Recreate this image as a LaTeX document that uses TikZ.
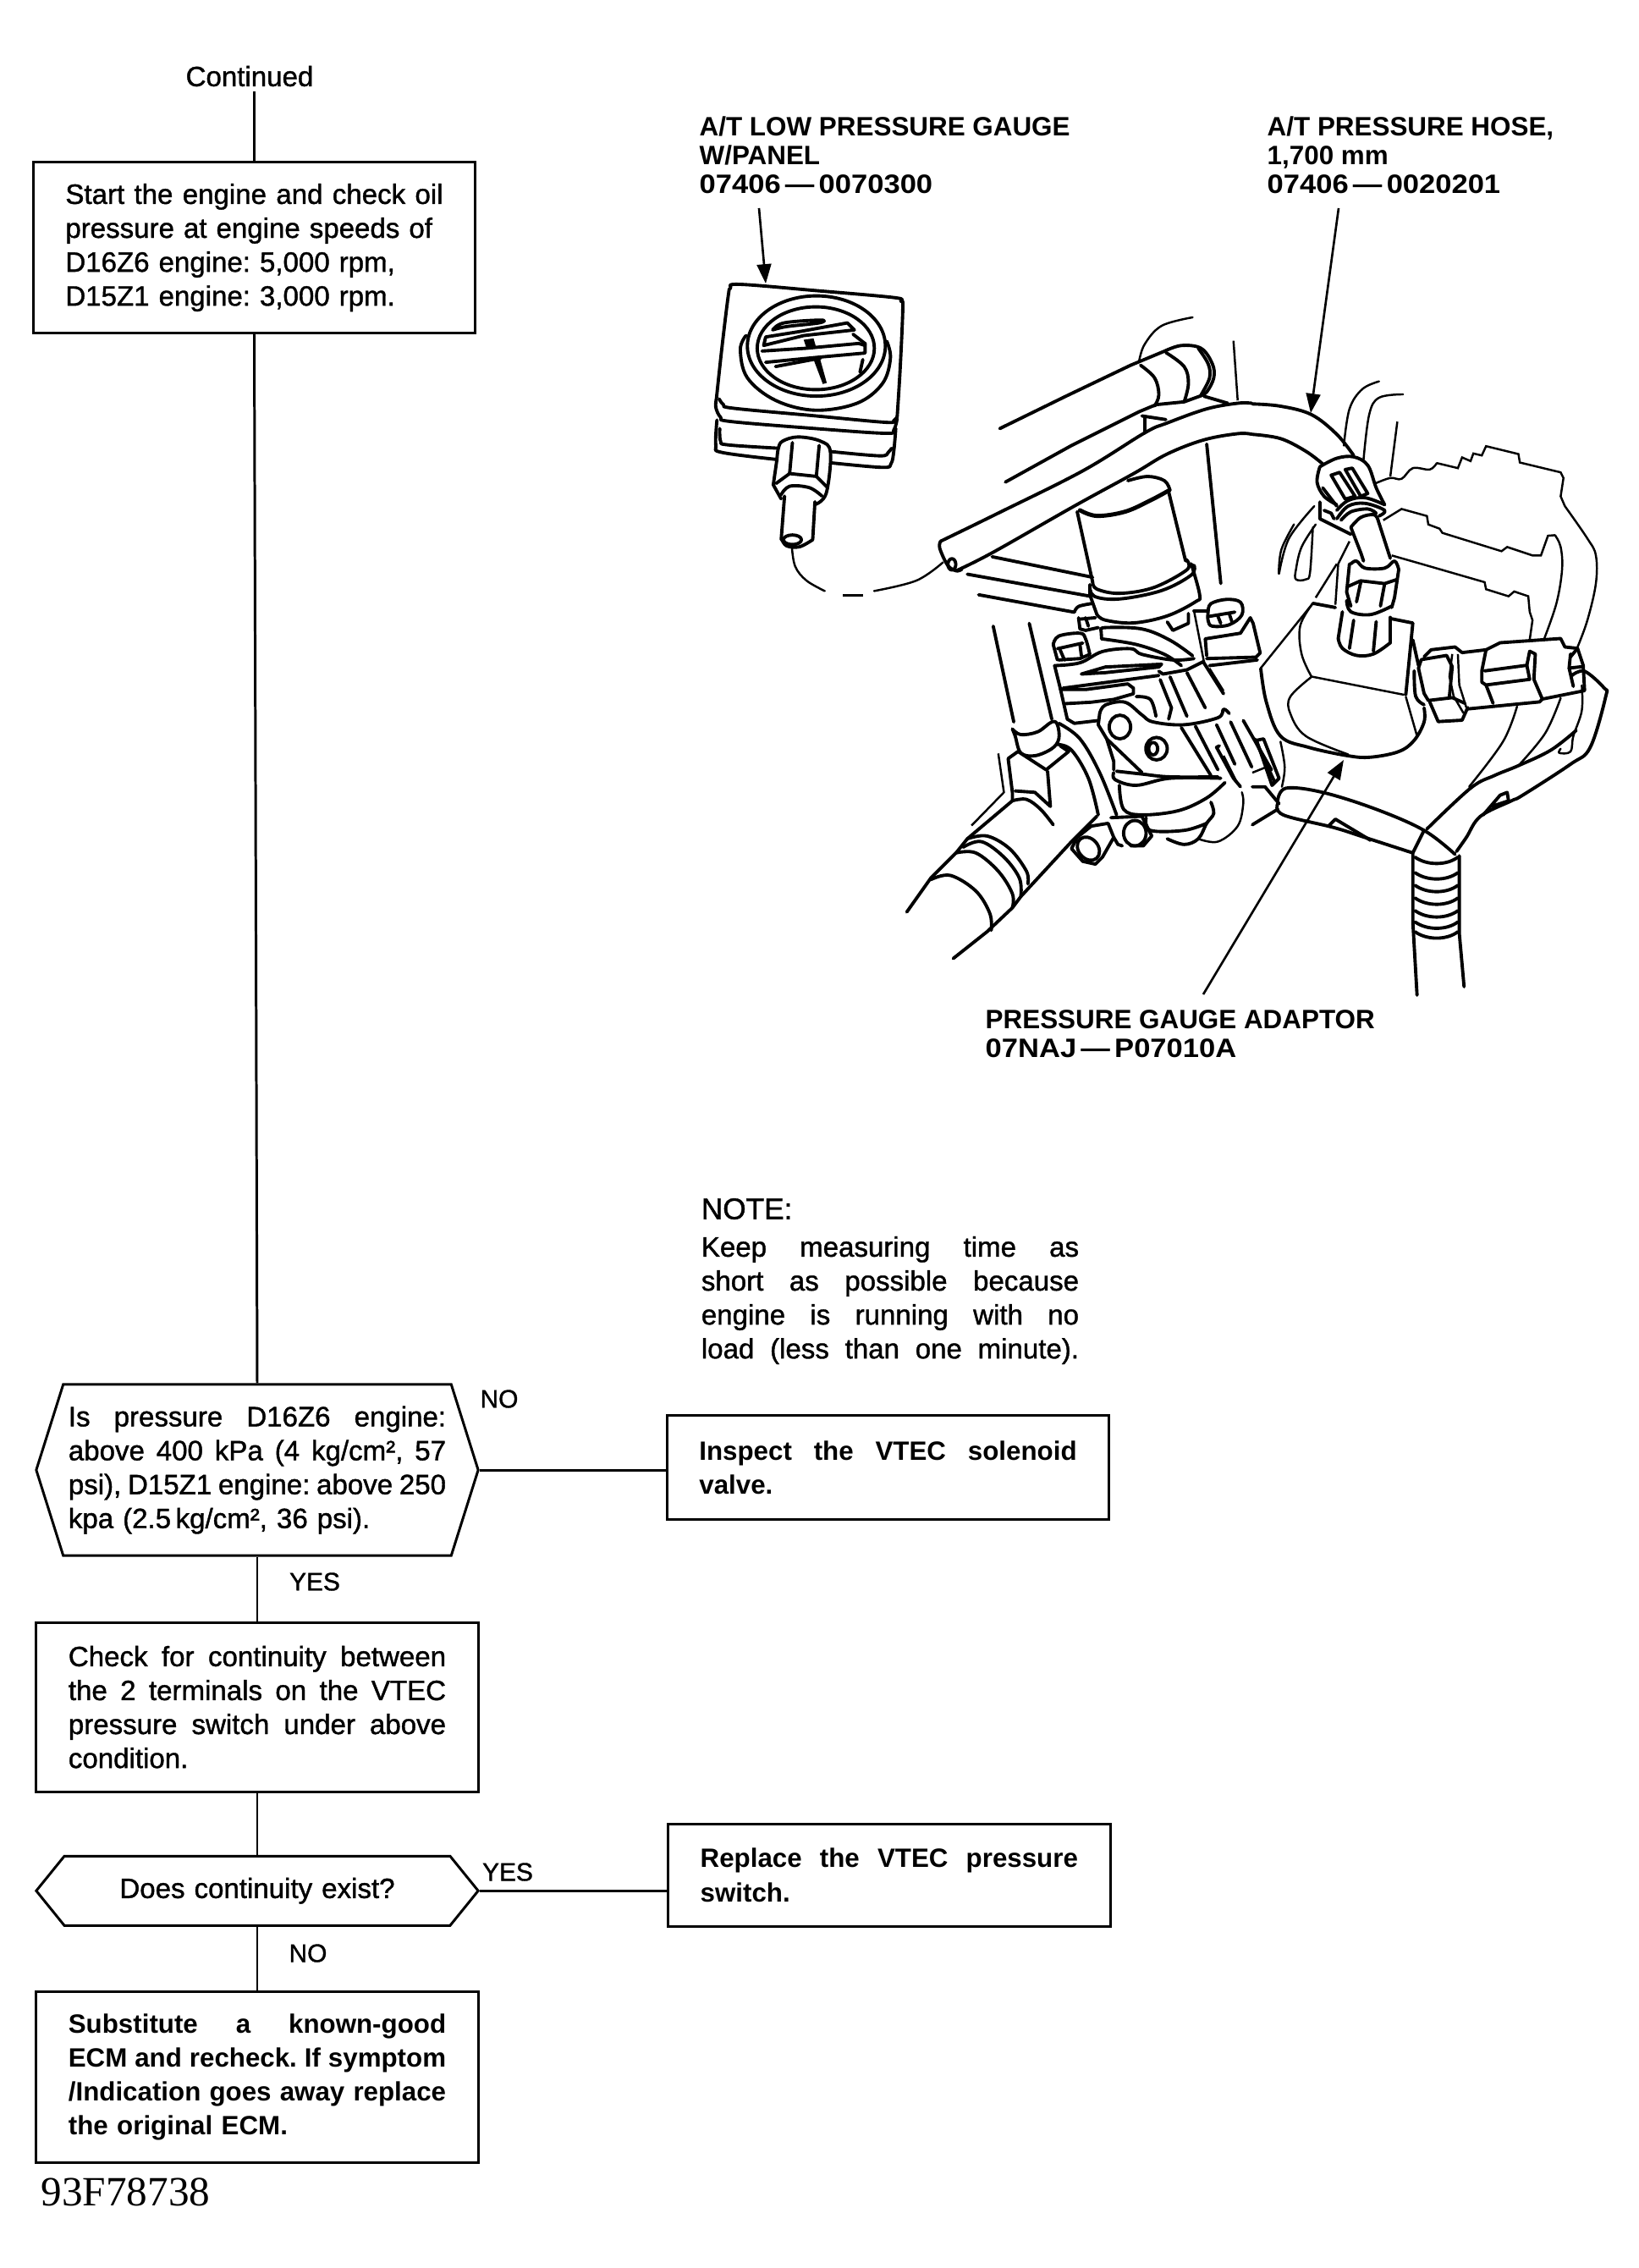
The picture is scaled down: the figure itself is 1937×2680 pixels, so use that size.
\documentclass[tikz,border=0pt]{standalone}
\usepackage{fontspec}
\setmainfont{Liberation Sans}
\newfontfamily\medfont[FakeBold=1.2]{Liberation Sans}
\newfontfamily\partfont[FakeStretch=1.1]{Liberation Sans}
\newfontfamily\codefont{Liberation Serif}
\usetikzlibrary{shapes.symbols, arrows.meta, positioning}
\frenchspacing
\newcommand{\fl}[1]{\makebox[\linewidth][s]{\spaceskip=0pt #1}}
\newcommand{\crv}[2][]{\draw[ink,#1] plot[smooth,tension=0.6] coordinates {#2};}
\tikzset{
  ink/.style={line width=1.1pt, line cap=round, line join=round},
  thinink/.style={line width=0.7pt},
  zoomat/.style 2 args={shift={(#1,#2)}, x=0.003333cm, y=-0.003333cm}
}
\begin{document}
\begin{tikzpicture}[
    x=0.01cm, y=-0.01cm,
    box/.style={rectangle, draw, line width=0.85pt, minimum width=5.22cm, text width=4.46cm,
                inner sep=0pt, align=left, font=\medfont\fontsize{9.4}{11.4}\selectfont},
    boldbox/.style={box, font=\bfseries\fontsize{8.9}{11.4}\selectfont},
    hexbox/.style={box, signal, signal to=east and west, minimum width=5.22cm},
    lbl/.style={font=\bfseries\fontsize{8.93}{9.7}\selectfont, align=left, anchor=west, inner sep=0pt},
    tag/.style={font=\medfont\fontsize{8.5}{10}\selectfont, inner sep=0pt},
    flow/.style={line width=0.85pt},
    leader/.style={-{Triangle[length=6.5pt,width=4.8pt]}, line width=0.75pt}
  ]
    \useasboundingbox (0,0) rectangle (1937,2680);

    \node[font=\medfont\fontsize{9.4}{11}\selectfont, inner sep=0.05cm] (cont) at (295,90) {Continued};
    \node[box, minimum height=2.01cm] (start) at (300.5,292.5)
      {\fl{Start the engine and check oil}\\pressure at engine speeds of\\D16Z6 engine: 5,000 rpm,\\D15Z1 engine: 3,000 rpm.};
    \node[hexbox, signal pointer angle=145, minimum height=2.02cm] (hexa) at (304,1737)
      {\fl{Is pressure D16Z6 engine:}\\\fl{above 400 kPa (4 kg/cm², 57}\\\fl{psi), D15Z1 engine: above 250}\\kpa (2.5\,kg/cm², 36 psi).};
    \node[box, below=0.76cm of hexa, minimum height=2cm] (check)
      {\fl{Check for continuity between}\\\fl{the 2 terminals on the VTEC}\\\fl{pressure switch under above}\\condition.};
    \node[hexbox, below=0.73cm of check, signal pointer angle=102, minimum height=0.82cm, align=center] (hexb)
      {Does continuity exist?};
    \node[boldbox, below=0.75cm of hexb, minimum height=2.02cm] (subst)
      {\fl{Substitute a known-good}\\\fl{ECM and recheck. If symptom}\\\fl{/Indication goes away replace}\\the original ECM.};
    \node[boldbox, right=2.2cm of hexa, yshift=0.03cm, minimum height=1.22cm] (insp)
      {\fl{Inspect the VTEC solenoid}\\valve.};
    \node[boldbox, right=2.21cm of hexb, yshift=0.185cm, minimum height=1.21cm] (repl)
      {\fl{Replace the VTEC pressure}\\switch.};
    \node[font=\medfont\fontsize{9.4}{11.4}\selectfont, text width=4.46cm, align=left, inner sep=0pt] (note) at (1052,1514)
      {{\fontsize{10}{11.4}\selectfont NOTE:}\\[1.2pt]\fl{Keep measuring time as}\\\fl{short as possible because}\\\fl{engine is running with no}\\\fl{load (less than one minute).}};

    \node[tag] (nohexa) at (590,1653) {NO};
    \node[tag] (yeshexa) at (372,1869) {YES};
    \node[tag] (yeshexb) at (600,2212) {YES};
    \node[tag] (nohexb) at (364,2308) {NO};
    \node[font=\codefont\fontsize{14}{16}\selectfont, anchor=west, inner sep=0pt] (figno) at (48,2590) {93F78738};

    \draw[flow] (cont.south -| start.north) -- (start.north);
    \draw[flow] (start.south) -- (hexa.north);
    \draw[flow] (hexa.south) -- (hexa.south |- check.north);
    \draw[flow] (check.south) -- (check.south |- hexb.north);
    \draw[flow] (hexb.south) -- (hexb.south |- subst.north);
    \draw[flow] (hexa.east) -- (hexa.east -| insp.west);
    \draw[flow] (hexb.east) -- (hexb.east -| repl.west);

    \node[lbl] (lblgauge) at (826,183) {A/T LOW PRESSURE GAUGE\\W/PANEL\\{\partfont\bfseries 07406\,—\,0070300}};
    \node[lbl] (lblhose) at (1497,183) {A/T PRESSURE HOSE,\\1,700 mm\\{\partfont\bfseries 07406\,—\,0020201}};
    \node[lbl] (lbladapt) at (1164,1222) {PRESSURE GAUGE ADAPTOR\\{\partfont\bfseries 07NAJ\,—\,P07010A}};

    \coordinate (gaugefrom) at (897,246);
    \coordinate (gaugetip) at (905,335);
    \coordinate (hosefrom) at (1582,246);
    \coordinate (hosetip) at (1549,488);
    \coordinate (adaptfrom) at (1422,1175);
    \coordinate (adapttip) at (1588,898);
    \draw[leader] (gaugefrom) -- (gaugetip);
    \draw[leader] (hosefrom) -- (hosetip);
    \draw[leader] (adaptfrom) -- (adapttip);

    \begin{scope}[zoomat={830}{300}]
      \crv{(50,515)(70,330)(92,150)(100,122)(130,108)(400,130)(680,155)(705,168)(712,190)(703,400)(692,578)}
      \crv{(60,515)(75,535)(110,548)(400,575)(650,598)(680,592)(692,578)}
      \crv{(50,515)(48,545)(65,580)(100,595)(400,620)(650,637)(680,625)(692,585)}
      \crv{(52,590)(48,680)(70,705)(265,730)}
      \crv{(62,620)(65,665)(90,678)(270,690)}
      \crv{(458,742)(640,758)(670,745)(680,700)(687,620)}
      \crv{(458,702)(630,717)(660,705)(672,690)}
      \draw[ink] (405,327) ellipse [x radius=245, y radius=178];
      \draw[ink] (403,335) ellipse [x radius=208, y radius=147];
      \crv{(155,290)(135,340)(160,440)(260,520)(400,555)(550,530)(640,460)(668,370)(655,310)}
      \crv{(250,270)(290,245)(420,235)(415,245)(300,258)(250,270)}
      \draw[ink] (218,325) -- (225,295) -- (350,275) -- (515,245) -- (540,270) -- (360,290) -- cycle;
      \draw[ink] (212,345) -- (370,335) -- (555,318) -- (578,325) -- (578,352) -- (400,368) -- (225,385);
      \draw[ink] (260,400) -- (420,370);
      \draw[ink] (535,285) -- (580,320);
      \draw[ink] (570,375) -- (560,420);
      \fill (360,305) -- (395,300) -- (405,335) -- (370,335) -- cycle;
      \fill (395,375) -- (418,372) -- (442,458) -- (428,462) -- cycle;
      \crv{(265,730)(270,690)(285,665)(340,650)(420,665)(455,705)(440,850)(400,890)}
      \draw[ink] (265,730) -- (252,820) -- (280,870);
      \draw[ink] (320,670) -- (310,780);
      \draw[ink] (415,680) -- (405,790);
      \draw[ink] (262,815) -- (310,780) -- (405,790) -- (445,830);
      \crv{(280,855)(310,825)(380,830)(425,860)}
      \draw[ink] (292,860) -- (280,1015);
      \draw[ink] (400,880) -- (392,1015);
      \draw[ink] (320,1015) ellipse [x radius=32, y radius=17];
      \crv{(283,1015)(300,1037)(345,1040)(392,1015)}
      \crv[thinink]{(318,1040)(330,1110)(370,1160)(435,1197)}
      \crv[thinink]{(610,1197)(760,1160)(855,1095)}
      \draw[thinink] (500,1213) -- (570,1213);
    \end{scope}

    \begin{scope}[zoomat={1080}{360}]
      \crv{(95,840)(300,740)(600,590)(820,455)(900,420)(1040,370)(1150,350)(1200,350)}
      \crv{(150,945)(280,880)(570,715)(780,600)(900,530)(1030,480)(1150,458)(1200,460)}
      \crv{(95,840)(92,865)(120,925)(150,945)(170,940)}
      \draw[ink] (135,922) ellipse [x radius=14, y radius=20];
      \draw[ink] (305,440) -- (540,325) -- (770,215);
      \draw[ink] (770,215) -- (890,165);
      \crv{(890,165)(950,145)(1020,155)(1060,210)(1065,260)(1040,310)(1015,325)}
      \crv{(1010,155)(1045,210)(1050,260)(1020,320)}
      \crv{(895,170)(960,220)(975,280)(960,345)}
      \crv{(805,215)(855,260)(870,320)(855,360)}
      \draw[ink] (325,630) -- (560,500) -- (800,380) -- (860,355) -- (960,345) -- (1015,325);
      \draw[ink] (1030,325) -- (1115,350);
      \draw[ink] (810,395) -- (895,408);
      \draw[ink] (820,400) -- (820,455);
      \crv[thinink]{(800,200)(820,140)(880,75)(990,45)}
      \draw[thinink] (1135,128) -- (1150,340);
      \draw[ink] (1040,495) -- (1090,990);
      \crv{(760,625)(830,610)(890,625)(910,660)}
      \crv[line width=1.4pt]{(590,730)(650,750)(750,735)(840,695)(905,660)}
      \draw[ink] (580,735) -- (635,985);
      \draw[ink] (905,665) -- (965,910);
      \crv{(635,985)(650,1010)(730,1025)(850,1005)(965,945)(975,915)(965,905)}
      \crv{(625,995)(640,1035)(730,1045)(880,1015)(985,960)(995,925)}
      \crv{(985,920)(1015,1030)(1000,1055)(900,1105)(780,1130)(680,1120)(650,1100)}
      \draw[ink] (625,995) -- (625,1030) -- (650,1100);
      \draw[ink] (278,895) -- (635,968);
      \draw[ink] (190,957) -- (625,1035);
      \draw[ink] (230,1030) -- (570,1092);
      \crv[thinink]{(1296,955)(1305,870)(1350,780)}
    \end{scope}

    \begin{scope}[zoomat={1480}{440}]
      \crv{(0,112)(100,120)(210,150)(300,220)(360,295)}
      \crv{(0,220)(100,235)(190,280)(250,325)}
      \crv[thinink]{(325,260)(345,130)(390,60)(450,32)}
      \crv[thinink]{(395,310)(415,150)(450,90)(535,78)}
      \draw[thinink] (515,175) -- (490,370);
      \crv{(240,335)(230,390)(255,440)(300,470)}
      \crv{(240,335)(300,305)(360,300)(410,330)(440,410)(470,470)}
      \draw[ink] (280,365) -- (330,450) -- (365,440) -- (310,355) -- cycle;
      \draw[ink] (330,345) -- (385,440) -- (410,430) -- (355,340) -- cycle;
      \crv{(300,490)(340,455)(400,445)(470,470)}
      \crv{(300,520)(340,475)(400,465)(470,490)(450,510)}
      \crv{(315,525)(350,495)(410,485)(440,500)}
      \draw[ink] (240,460) -- (240,520) -- (290,545) -- (350,575);
      \draw[ink] (250,410) -- (300,475);
      \draw[ink] (255,490) -- (280,500) -- (290,520);
      \crv[thinink]{(95,715)(130,590)(220,475)}
      \crv[thinink]{(225,540)(175,620)(155,700)(155,735)(190,735)(205,710)(215,550)}
      \draw[thinink] (225,800) -- (300,680);
      \draw[thinink] (295,825) -- (305,680) -- (345,600);
      \draw[ink] (350,550) -- (385,640) -- (395,670);
      \draw[ink] (445,520) -- (490,660);
      \crv{(350,550)(385,515)(430,505)(445,520)}
      \draw[ink] (345,680) -- (335,780) -- (350,830);
      \crv{(350,680)(370,670)(400,695)(470,695)(505,670)(520,700)}
      \draw[ink] (520,700) -- (505,800) -- (495,835);
      \draw[ink] (385,745) -- (370,815);
      \draw[ink] (470,750) -- (455,830);
      \draw[ink] (340,760) -- (385,740) -- (470,750) -- (515,735);
      \crv{(335,810)(350,850)(420,860)(495,830)}
      \crv{(305,945)(320,850)}
      \draw[ink] (490,870) -- (490,960);
      \crv{(305,945)(320,980)(370,1005)(430,1000)(490,960)}
      \draw[ink] (360,880) -- (345,980);
      \draw[ink] (440,885) -- (430,990);
      \draw[ink] (215,820) -- (295,835);
      \draw[ink] (495,875) -- (570,890) -- (545,1145);
      \draw[ink] (570,950) -- (590,1040);
      \draw[thinink] (215,820) -- (30,1050);
      \crv[thinink]{(215,820)(170,900)(175,1000)(210,1080)}
      \draw[thinink] (210,1080) -- (540,1145);
      \crv[thinink]{(435,395)(490,375)(530,378)(570,340)(630,345)(655,322)}
      \draw[thinink] (655,322) -- (730,340) -- (745,302) -- (775,315) -- (785,288) -- (815,295) -- (830,262) -- (945,290) -- (950,320) -- (1095,355) -- (1105,375) -- (1095,440) -- (1110,475);
      \crv[thinink]{(1110,475)(1190,590)(1220,650)(1220,750)(1190,880)(1155,975)}
      \draw[thinink] (465,525) -- (530,485) -- (620,510) -- (625,540) -- (665,555) -- (675,570) -- (885,635) -- (905,620) -- (995,650) -- (1025,650) -- (1050,580) -- (1075,578);
      \crv[thinink]{(1075,578)(1095,620)(1100,700)(1080,820)(1035,950)}
      \draw[thinink] (495,650) -- (600,680) -- (825,745) -- (830,770) -- (910,795) -- (930,778) -- (980,795) -- (985,850) -- (995,880) -- (985,950);
      \draw[ink] (610,1010) -- (635,985) -- (720,975) -- (745,995);
      \draw[ink] (590,1050) -- (600,1020) -- (690,1005) -- (710,1045) -- (700,1150);
      \draw[ink] (590,1050) -- (610,1140) -- (625,1165) -- (710,1155) -- (755,1175);
      \draw[ink] (630,1170) -- (660,1240) -- (745,1235) -- (765,1190);
      \crv{(575,1060)(580,1150)(610,1180)}
      \draw[thinink] (710,1000) -- (700,1080) -- (715,1150) -- (750,1210);
      \draw[thinink] (730,1000) -- (735,1110) -- (760,1190);
      \draw[ink] (745,995) -- (830,985) -- (880,960) -- (1095,945) -- (1110,975) -- (1155,980) -- (1175,1040) -- (1180,1130) -- (1030,1160) -- (1020,1170) -- (765,1195);
      \draw[ink] (830,985) -- (815,1060) -- (815,1100) -- (830,1110) -- (985,1090) -- (975,1040) -- (825,1060);
      \draw[ink] (830,1110) -- (855,1175);
      \draw[ink] (985,990) -- (1005,1000) -- (1000,1090) -- (1030,1160);
      \draw[ink] (985,990) -- (975,1040);
      \draw[ink] (1130,1000) -- (1125,1050) -- (1140,1115);
      \draw[ink] (1125,1050) -- (1170,1045);
      \draw[ink] (1155,980) -- (1130,1010);
    \end{scope}

    \begin{scope}[zoomat={1050}{680}]
      \draw[ink] (372,180) -- (445,520);
      \draw[ink] (500,170) -- (580,510);
      \crv{(440,545)(470,565)(530,555)(580,520)(600,530)(605,580)(580,615)(520,640)(470,630)(450,570)(440,545)}
      \draw[ink] (425,650) -- (460,625) -- (560,690) -- (640,625) -- (610,605);
      \draw[ink] (425,650) -- (440,770) -- (440,800);
      \draw[ink] (450,765) -- (520,770) -- (575,820) -- (565,695);
      \crv{(440,800)(490,795)(540,830)(585,885)}
      \draw[thinink] (390,632) -- (410,770) -- (295,888);
      \draw[ink] (440,800) -- (280,935) -- (240,985) -- (150,1075) -- (65,1195);
      \draw[ink] (740,855) -- (650,945) -- (470,1140) -- (440,1180) -- (350,1265) -- (230,1360);
      \crv{(280,935)(350,925)(430,970)(490,1050)(495,1095)}
      \crv{(265,965)(330,945)(410,1000)(465,1075)(470,1140)}
      \crv{(240,985)(310,985)(390,1050)(440,1130)(440,1180)}
      \crv{(150,1080)(220,1065)(310,1120)(360,1200)(365,1260)}
      \crv{(605,525)(680,580)(750,700)(810,850)}
      \crv{(600,600)(650,620)(710,720)(745,850)}
      \draw[ink] (650,970) -- (670,930) -- (720,890) -- (780,880) -- (800,930) -- (760,1000) -- (735,1025) -- (690,1015) -- cycle;
      \draw[ink, rotate around={40:(710,970)}] (710,970) ellipse [x radius=35, y radius=45];
      \draw[ink] (800,930) -- (815,955) -- (830,960);
      \draw[ink] (875,915) ellipse [x radius=40, y radius=45];
      \draw[ink] (790,860) -- (900,855) -- (935,925) -- (905,960) -- (860,960);
      \crv{(660,130)(675,110)(720,100)}
      \draw[ink] (675,150) -- (680,190) -- (700,195) -- (745,185);
      \draw[ink] (680,155) -- (735,150);
      \draw[ink] (700,150) -- (710,180);
      \crv{(585,245)(605,215)(680,205)(700,225)(715,280)}
      \draw[ink] (600,260) -- (690,240);
      \draw[ink] (610,265) -- (625,300);
      \draw[ink] (680,245) -- (685,285);
      \draw[ink] (605,300) -- (680,295) -- (715,280);
      \draw[ink] (585,245) -- (600,300);
      \crv{(755,195)(770,185)(900,190)(1000,230)(1080,285)}
      \crv{(757,225)(880,245)(980,280)(1040,320)}
      \draw[ink] (755,195) -- (757,225);
      \crv{(590,320)(680,310)(760,270)(860,260)(900,280)(1010,300)(1085,295)}
      \draw[ink] (590,320) -- (610,400) -- (635,510) -- (660,525) -- (745,515);
      \draw[ink] (685,350) -- (770,325) -- (970,315) -- (960,325) -- (770,345) -- cycle;
      \draw[ink] (610,405) -- (700,405) -- (850,385) -- (870,400) -- (870,420) -- (800,440) -- (720,450) -- (630,455);
      \draw[ink] (960,340) -- (975,350) -- (1060,335) -- (1120,305);
      \draw[ink] (620,400) -- (960,355);
      \crv{(1135,130)(1145,100)(1200,85)(1250,95)(1255,140)(1210,175)(1150,180)(1135,160)(1135,130)}
      \draw[ink] (1140,145) -- (1230,130);
      \draw[ink] (1170,145) -- (1180,170);
      \draw[ink] (1210,135) -- (1220,165);
      \draw[ink] (1085,125) -- (1135,125);
      \draw[ink] (1125,225) -- (1130,285);
      \draw[ink] (1125,225) -- (1250,205) -- (1285,150) -- (1295,170) -- (1320,275) -- (1305,290) -- (1130,295);
      \draw[ink] (1140,320) -- (1310,300);
      \draw[ink] (990,165) -- (1010,195) -- (1065,170) -- (1065,135);
      \draw[ink] (965,370) -- (1005,470) -- (995,510);
      \draw[ink] (1000,360) -- (1060,500);
      \draw[ink] (1060,345) -- (1125,470);
      \draw[ink] (1120,310) -- (1190,420);
      \draw[thinink] (1140,330) -- (1190,410);
      \draw[ink] (1040,540) -- (1145,710);
      \draw[ink] (1090,535) -- (1170,690);
      \draw[ink] (1165,530) -- (1230,670);
      \draw[ink] (1215,520) -- (1290,680);
      \draw[ink] (1260,515) -- (1360,690);
      \draw[ink] (1300,580) -- (1370,730);
      \crv{(750,490)(770,460)(840,450)(900,495)(940,520)(1050,530)(1170,505)(1190,475)(1210,490)}
      \crv{(880,430)(930,440)(950,500)}
      \draw[ink] (750,490) -- (745,530) -- (775,580) -- (800,660) -- (800,690);
      \draw[ink] (775,580) -- (890,690) -- (900,700);
      \draw[ink] (822,538) ellipse [x radius=38, y radius=42];
      \draw[ink] (952,615) ellipse [x radius=38, y radius=40];
      \draw[ink] (940,615) ellipse [x radius=16, y radius=22];
      \crv{(800,700)(805,725)(880,745)(1000,720)(1180,720)}
      \crv{(810,695)(900,705)(1000,715)(1170,715)}
      \crv{(820,745)(835,830)(900,850)(1030,835)(1130,790)(1195,735)}
      \crv{(1145,805)(1155,845)(1130,880)(1100,935)(1050,955)(990,935)}
      \crv{(915,860)(930,905)(1050,905)(1130,880)}
      \crv[thinink]{(1100,935)(1170,945)(1240,890)(1260,810)(1255,770)}
      \draw[ink] (1175,605) -- (1165,610) -- (1225,720) -- (1250,750);
      \draw[thinink] (1190,640) -- (1240,740);
      \draw[thinink] (1085,125) -- (1120,305);
    \end{scope}

    \begin{scope}[zoomat={1480}{720}]
      \crv{(30,210)(50,330)(100,450)(200,490)(340,520)(420,525)(520,505)(575,465)(610,400)(610,350)}
      \crv[thinink]{(210,240)(135,310)(135,370)(190,450)(340,515)}
      \draw[thinink] (545,310) -- (585,450);
      \crv{(1135,235)(1180,220)(1250,280)(1255,310)(1200,490)(1130,550)(960,660)(920,680)(810,735)(760,810)(725,860)}
      \crv[thinink]{(1095,315)(1040,440)(945,555)}
      \crv[thinink]{(940,345)(890,470)(770,630)}
      \crv[thinink]{(1170,270)(1170,360)(1140,450)(1130,505)(1090,510)(1095,495)}
      \crv{(1150,430)(1060,500)(945,555)(860,590)(775,635)(620,780)}
      \crv{(90,680)(120,635)(250,650)(440,710)(610,785)(720,870)}
      \crv{(90,690)(110,730)(290,775)(400,810)(570,865)}
      \draw[ink] (570,865) -- (610,785);
      \draw[ink] (270,770) -- (295,745) -- (420,820);
      \draw[ink] (820,730) -- (880,660) -- (905,650) -- (910,680) -- (850,700);
      \draw[ink] (570,870) -- (570,1110) -- (585,1370);
      \draw[ink] (735,875) -- (735,1150) -- (752,1340);
      \foreach \ribY in {905,960,1005,1050,1095,1135,1170}
        \draw[ink] (578,\ribY-25) .. controls (620,\ribY+5) and (690,\ribY+5) .. (730,\ribY-25);
      \draw[ink] (0,765) -- (90,710);
      \draw[ink] (0,630) -- (45,630) -- (95,690);
      \draw[ink] (15,465) -- (40,460) -- (95,600) -- (70,625) -- (15,465);
      \crv[thinink]{(100,470)(115,560)(105,630)}
      \draw[thinink] (0,580) -- (50,560);
    \end{scope}
  \end{tikzpicture}
\end{document}
